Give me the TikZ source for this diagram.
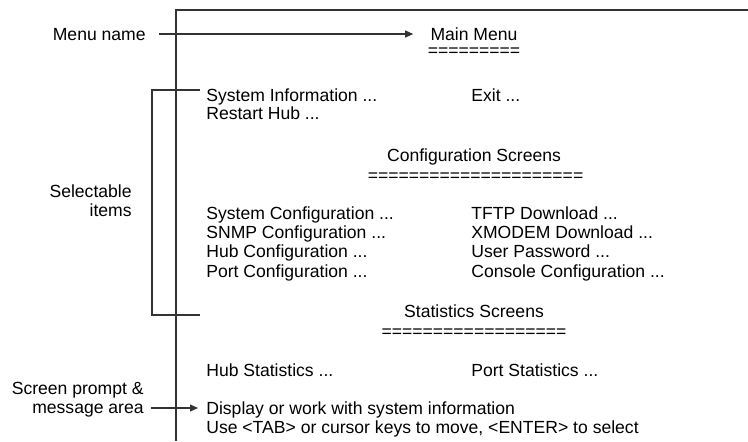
\documentclass[tikz,border=0pt]{standalone}
\usepackage{fontspec}
\setmainfont{Liberation Sans}
\usetikzlibrary{arrows.meta}

\begin{document}
\begin{tikzpicture}[
    scr/.style={font=\fontsize{10}{11}\selectfont, text height=7.2pt, text depth=0pt, inner sep=0pt},
    lbl/.style={font=\fontsize{10}{11}\selectfont, align=right, inner sep=0pt, anchor=east},
    tip/.style={-{Triangle[length=1.6mm,width=1.4mm]}}]
    %\draw[very thin,color=gray] (0,0) grid (15,9);
    \useasboundingbox (0,0) rectangle (14.96,8.82);
    \draw [black!80, semithick] (3.52,0) -- (3.52,8.62) -- (14.96,8.62);

    \node [scr] (mainmenu) at (9.48,8.14) {Main Menu};
    \node [scr] (mainline) at (9.48,7.82) {=========};
    \node [scr, anchor=west] (sysinfo) at (4.12,6.92) {System Information ...};
    \node [scr, anchor=west] (exit) at (9.42,6.92) {Exit ...};
    \node [scr, anchor=west] (restart) at (4.12,6.56) {Restart Hub ...};

    \node [scr] (config) at (9.48,5.72) {Configuration Screens};
    \node [scr] (configline) at (9.51,5.32) {=====================};
    \node [scr, anchor=west] (syscfg) at (4.12,4.56) {System Configuration ...};
    \node [scr, anchor=west] (snmpcfg) at (4.12,4.18) {SNMP Configuration ...};
    \node [scr, anchor=west] (hubcfg) at (4.12,3.80) {Hub Configuration ...};
    \node [scr, anchor=west] (portcfg) at (4.12,3.40) {Port Configuration ...};
    \node [scr, anchor=west] (tftp) at (9.42,4.56) {TFTP Download ...};
    \node [scr, anchor=west] (xmodem) at (9.42,4.18) {XMODEM Download ...};
    \node [scr, anchor=west] (passwd) at (9.42,3.80) {User Password ...};
    \node [scr, anchor=west] (console) at (9.42,3.40) {Console Configuration ...};

    \node [scr] (stats) at (9.48,2.60) {Statistics Screens};
    \node [scr] (statsline) at (9.48,2.20) {==================};
    \node [scr, anchor=west] (hubstats) at (4.12,1.42) {Hub Statistics ...};
    \node [scr, anchor=west] (portstats) at (9.42,1.42) {Port Statistics ...};

    \node [scr, anchor=west] (display) at (4.12,0.66) {Display or work with system information};
    \node [scr, anchor=west] (usekeys) at (4.12,0.28) {Use <TAB> or cursor keys to move, <ENTER> to select};

    \node [scr, anchor=east] (mname) at (2.92,8.14) {Menu name};
    \node [lbl] (select) at (2.64,4.81) {Selectable\\items};
    \node [lbl] (prompt) at (2.88,0.82) {Screen prompt \&\\message area};

    \draw [black!80, semithick, tip, shorten <=0.26cm, shorten >=0.34cm] (mname.east) -- (mname.east -| mainmenu.west);
    \draw [black!80, semithick, tip, shorten <=0.14cm, shorten >=0.16cm] (display.west -| prompt.east) -- (display.west);
    \coordinate (seltop) at (4.0,7.02);
    \coordinate (selbot) at (4.0,2.52);
    \draw [black!80, semithick] (seltop) -- (3.04,7.02) -- (3.04,2.52) -- (selbot);

\end{tikzpicture}
\end{document}
